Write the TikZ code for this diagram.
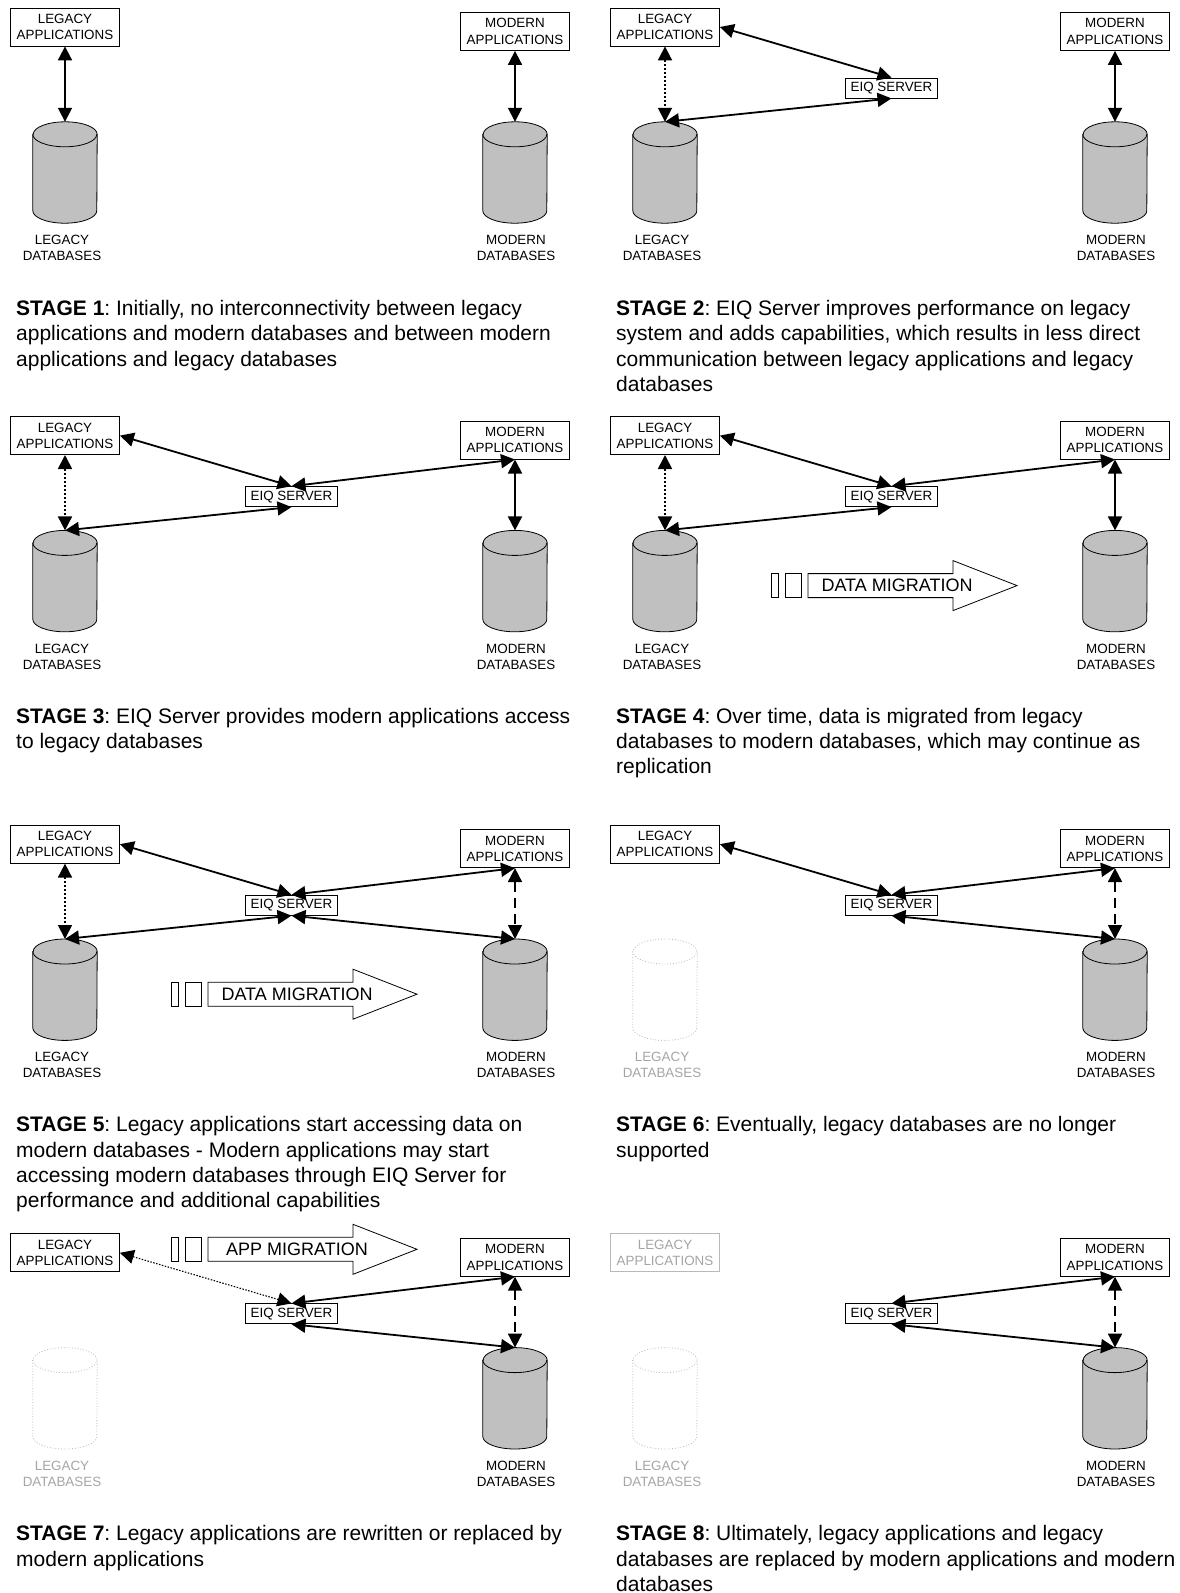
\documentclass[tikz,border=0pt]{standalone}
\usepackage{fontspec}
\setmainfont{Liberation Sans}
\usetikzlibrary{
    arrows.meta  % Required for "Triangle" arrowheads
}
\definecolor{dbgray}{RGB}{192,192,192}
\definecolor{fadeline}{RGB}{185,185,185}
\definecolor{fadetext}{RGB}{165,165,165}
\frenchspacing

\begin{document}
\begin{tikzpicture}[
        x=1pt, y=-1pt,
        >={Triangle[length=14pt,width=14pt]},
        % Styles
        app/.style={rectangle, draw=black, line width=0.8pt, fill=white, align=center,
            inner sep=0pt, minimum width=109pt, minimum height=38pt,
            font=\fontsize{13.4}{16.3}\selectfont},
        server/.style={rectangle, draw=black, line width=0.8pt, fill=white,
            inner sep=0pt, minimum width=92pt, minimum height=20pt,
            font=\fontsize{13.4}{16.3}\selectfont},
        % database drum: a bare box for the anchors, the drum drawn after it
        drum/.style={rectangle, inner sep=0pt, minimum width=64pt, minimum height=101pt,
            append after command={\pgfextra{
                \filldraw[line width=0.8pt, #1]
                    ([yshift=-12.5pt]\tikzlastnode.north west)
                    -- ([yshift=12.5pt]\tikzlastnode.south west)
                    arc[start angle=180, end angle=360, x radius=32pt, y radius=12.5pt]
                    -- ([yshift=-12.5pt]\tikzlastnode.north east)
                    arc[start angle=0, end angle=180, x radius=32pt, y radius=12.5pt]
                    -- cycle;
                \draw[line width=0.8pt, #1, fill=none]
                    ([yshift=-12.5pt]\tikzlastnode.north west)
                    arc[start angle=180, end angle=360, x radius=32pt, y radius=12.5pt];
            }}},
        db/.style={drum={draw=black, fill=dbgray}},
        gone db/.style={drum={draw=fadeline, fill=white, dotted}},
        gone app/.style={app, draw=fadeline, text=fadetext},
        dblabel/.style={align=center, inner sep=0pt, font=\fontsize{13.4}{16.3}\selectfont},
        caption/.style={anchor=north west, align=left, inner sep=0pt,
            font=\fontsize{21}{25.4}\selectfont},
        link/.style={<->, line width=1.8pt},
        weak link/.style={link, dash pattern=on 2pt off 2pt},
        thin link/.style={<->, line width=1.1pt, dash pattern=on 1.5pt off 1.5pt},
        maybe link/.style={link, dash pattern=on 10pt off 6pt},
        migbox/.style={draw=black, line width=0.8pt, fill=white},
        migtext/.style={inner sep=0pt, font=\fontsize{18}{20}\selectfont}
    ]

    \useasboundingbox (0,0) rectangle (1180,1593);

    % --- STAGE 1 ---
    \begin{scope}
        \node[app] (LApp1) at (65,27) {LEGACY\\APPLICATIONS};
        \node[app] (MApp1) at (515,31.5) {MODERN\\APPLICATIONS};
        \node[db] (LDb1) at (65,172.5) {};
        \node[db] (MDb1) at (515,172.5) {};
        \node[dblabel] (LLab1) at (62,248) {LEGACY\\DATABASES};
        \node[dblabel] (MLab1) at (516,248) {MODERN\\DATABASES};
        \draw[link] (LApp1.south) -- (LDb1.north);
        \draw[link] (MApp1.south) -- (MDb1.north);
        \node[caption] (cap1) at (16,300) {\textbf{STAGE 1}: Initially, no interconnectivity between legacy\\
            applications and modern databases and between modern\\
            applications and legacy databases};
    \end{scope}

    % --- STAGE 2 ---
    \begin{scope}[shift={(600,0)}]
        \node[app] (LApp2) at (65,27) {LEGACY\\APPLICATIONS};
        \node[app] (MApp2) at (515,31.5) {MODERN\\APPLICATIONS};
        \node[server] (Srv2) at (291.5,88) {EIQ SERVER};
        \node[db] (LDb2) at (65,172.5) {};
        \node[db] (MDb2) at (515,172.5) {};
        \node[dblabel] (LLab2) at (62,248) {LEGACY\\DATABASES};
        \node[dblabel] (MLab2) at (516,248) {MODERN\\DATABASES};
        \draw[link] (LApp2.east) -- (Srv2.north);
        \draw[link] (Srv2.south) -- (LDb2.north);
        \draw[weak link] (LApp2.south) -- (LDb2.north);
        \draw[link] (MApp2.south) -- (MDb2.north);
        \node[caption] (cap2) at (16,300) {\textbf{STAGE 2}: EIQ Server improves performance on legacy\\
            system and adds capabilities, which results in less direct\\
            communication between legacy applications and legacy\\
            databases};
    \end{scope}

    % --- STAGE 3 ---
    \begin{scope}[shift={(0,408.6)}]
        \node[app] (LApp3) at (65,27) {LEGACY\\APPLICATIONS};
        \node[app] (MApp3) at (515,31.5) {MODERN\\APPLICATIONS};
        \node[server] (Srv3) at (291.5,88) {EIQ SERVER};
        \node[db] (LDb3) at (65,172.5) {};
        \node[db] (MDb3) at (515,172.5) {};
        \node[dblabel] (LLab3) at (62,248) {LEGACY\\DATABASES};
        \node[dblabel] (MLab3) at (516,248) {MODERN\\DATABASES};
        \draw[link] (LApp3.east) -- (Srv3.north);
        \draw[link] (Srv3.north) -- (MApp3.south);
        \draw[link] (Srv3.south) -- (LDb3.north);
        \draw[weak link] (LApp3.south) -- (LDb3.north);
        \draw[link] (MApp3.south) -- (MDb3.north);
        \node[caption] (cap3) at (16,299) {\textbf{STAGE 3}: EIQ Server provides modern applications access\\
            to legacy databases};
    \end{scope}

    % --- STAGE 4 ---
    \begin{scope}[shift={(600,408.6)}]
        \node[app] (LApp4) at (65,27) {LEGACY\\APPLICATIONS};
        \node[app] (MApp4) at (515,31.5) {MODERN\\APPLICATIONS};
        \node[server] (Srv4) at (291.5,88) {EIQ SERVER};
        \node[db] (LDb4) at (65,172.5) {};
        \node[db] (MDb4) at (515,172.5) {};
        \node[dblabel] (LLab4) at (62,248) {LEGACY\\DATABASES};
        \node[dblabel] (MLab4) at (516,248) {MODERN\\DATABASES};
        \draw[link] (LApp4.east) -- (Srv4.north);
        \draw[link] (Srv4.north) -- (MApp4.south);
        \draw[link] (Srv4.south) -- (LDb4.north);
        \draw[weak link] (LApp4.south) -- (LDb4.north);
        \draw[link] (MApp4.south) -- (MDb4.north);
        % data migration arrow
        \draw[migbox] (171,165) rectangle (178,189);
        \draw[migbox] (185,165) rectangle (201,189);
        \draw[migbox] (208,165) -- (353,165) -- (353,152) -- (417,177)
            -- (353,202) -- (353,189) -- (208,189) -- cycle;
        \node[migtext] (Mig4) at (297,177) {DATA MIGRATION};
        \node[caption] (cap4) at (16,299) {\textbf{STAGE 4}: Over time, data is migrated from legacy\\
            databases to modern databases, which may continue as\\
            replication};
    \end{scope}

    % --- STAGE 5 ---
    \begin{scope}[shift={(0,817.2)}]
        \node[app] (LApp5) at (65,27) {LEGACY\\APPLICATIONS};
        \node[app] (MApp5) at (515,31.5) {MODERN\\APPLICATIONS};
        \node[server] (Srv5) at (291.5,88) {EIQ SERVER};
        \node[db] (LDb5) at (65,172.5) {};
        \node[db] (MDb5) at (515,172.5) {};
        \node[dblabel] (LLab5) at (62,248) {LEGACY\\DATABASES};
        \node[dblabel] (MLab5) at (516,248) {MODERN\\DATABASES};
        \draw[link] (LApp5.east) -- (Srv5.north);
        \draw[link] (Srv5.north) -- (MApp5.south);
        \draw[link] (Srv5.south) -- (LDb5.north);
        \draw[link] (Srv5.south) -- (MDb5.north);
        \draw[weak link] (LApp5.south) -- (LDb5.north);
        \draw[maybe link] (MApp5.south) -- (MDb5.north);
        % data migration arrow
        \draw[migbox] (171,165) rectangle (178,189);
        \draw[migbox] (185,165) rectangle (201,189);
        \draw[migbox] (208,165) -- (353,165) -- (353,152) -- (417,177)
            -- (353,202) -- (353,189) -- (208,189) -- cycle;
        \node[migtext] (Mig5) at (297,177) {DATA MIGRATION};
        \node[caption] (cap5) at (16,299) {\textbf{STAGE 5}: Legacy applications start accessing data on\\
            modern databases - Modern applications may start\\
            accessing modern databases through EIQ Server for\\
            performance and additional capabilities};
    \end{scope}

    % --- STAGE 6 ---
    \begin{scope}[shift={(600,817.2)}]
        \node[app] (LApp6) at (65,27) {LEGACY\\APPLICATIONS};
        \node[app] (MApp6) at (515,31.5) {MODERN\\APPLICATIONS};
        \node[server] (Srv6) at (291.5,88) {EIQ SERVER};
        \node[gone db] (LDb6) at (65,172.5) {};
        \node[db] (MDb6) at (515,172.5) {};
        \node[dblabel, text=fadetext] (LLab6) at (62,248) {LEGACY\\DATABASES};
        \node[dblabel] (MLab6) at (516,248) {MODERN\\DATABASES};
        \draw[link] (LApp6.east) -- (Srv6.north);
        \draw[link] (Srv6.north) -- (MApp6.south);
        \draw[link] (Srv6.south) -- (MDb6.north);
        \draw[maybe link] (MApp6.south) -- (MDb6.north);
        \node[caption] (cap6) at (16,299) {\textbf{STAGE 6}: Eventually, legacy databases are no longer\\
            supported};
    \end{scope}

    % --- STAGE 7 ---
    \begin{scope}[shift={(0,1225.8)}]
        \node[app] (LApp7) at (65,27) {LEGACY\\APPLICATIONS};
        \node[app] (MApp7) at (515,31.5) {MODERN\\APPLICATIONS};
        \node[server] (Srv7) at (291.5,88) {EIQ SERVER};
        \node[gone db] (LDb7) at (65,172.5) {};
        \node[db] (MDb7) at (515,172.5) {};
        \node[dblabel, text=fadetext] (LLab7) at (62,248) {LEGACY\\DATABASES};
        \node[dblabel] (MLab7) at (516,248) {MODERN\\DATABASES};
        \draw[thin link] (LApp7.east) -- (Srv7.north);
        \draw[link] (Srv7.north) -- (MApp7.south);
        \draw[link] (Srv7.south) -- (MDb7.north);
        \draw[maybe link] (MApp7.south) -- (MDb7.north);
        % app migration arrow
        \draw[migbox] (171,11.5) rectangle (178,35.5);
        \draw[migbox] (185,11.5) rectangle (201,35.5);
        \draw[migbox] (208,11.5) -- (353,11.5) -- (353,-1.5) -- (417,23.5)
            -- (353,48.5) -- (353,35.5) -- (208,35.5) -- cycle;
        \node[migtext] (Mig7) at (297,23.5) {APP MIGRATION};
        \node[caption] (cap7) at (16,299.5) {\textbf{STAGE 7}: Legacy applications are rewritten or replaced by\\
            modern applications};
    \end{scope}

    % --- STAGE 8 ---
    \begin{scope}[shift={(600,1225.8)}]
        \node[gone app] (LApp8) at (65,27) {LEGACY\\APPLICATIONS};
        \node[app] (MApp8) at (515,31.5) {MODERN\\APPLICATIONS};
        \node[server] (Srv8) at (291.5,88) {EIQ SERVER};
        \node[gone db] (LDb8) at (65,172.5) {};
        \node[db] (MDb8) at (515,172.5) {};
        \node[dblabel, text=fadetext] (LLab8) at (62,248) {LEGACY\\DATABASES};
        \node[dblabel] (MLab8) at (516,248) {MODERN\\DATABASES};
        \draw[link] (Srv8.north) -- (MApp8.south);
        \draw[link] (Srv8.south) -- (MDb8.north);
        \draw[maybe link] (MApp8.south) -- (MDb8.north);
        \node[caption] (cap8) at (16,299.5) {\textbf{STAGE 8}: Ultimately, legacy applications and legacy\\
            databases are replaced by modern applications and modern\\
            databases};
    \end{scope}

\end{tikzpicture}
\end{document}
